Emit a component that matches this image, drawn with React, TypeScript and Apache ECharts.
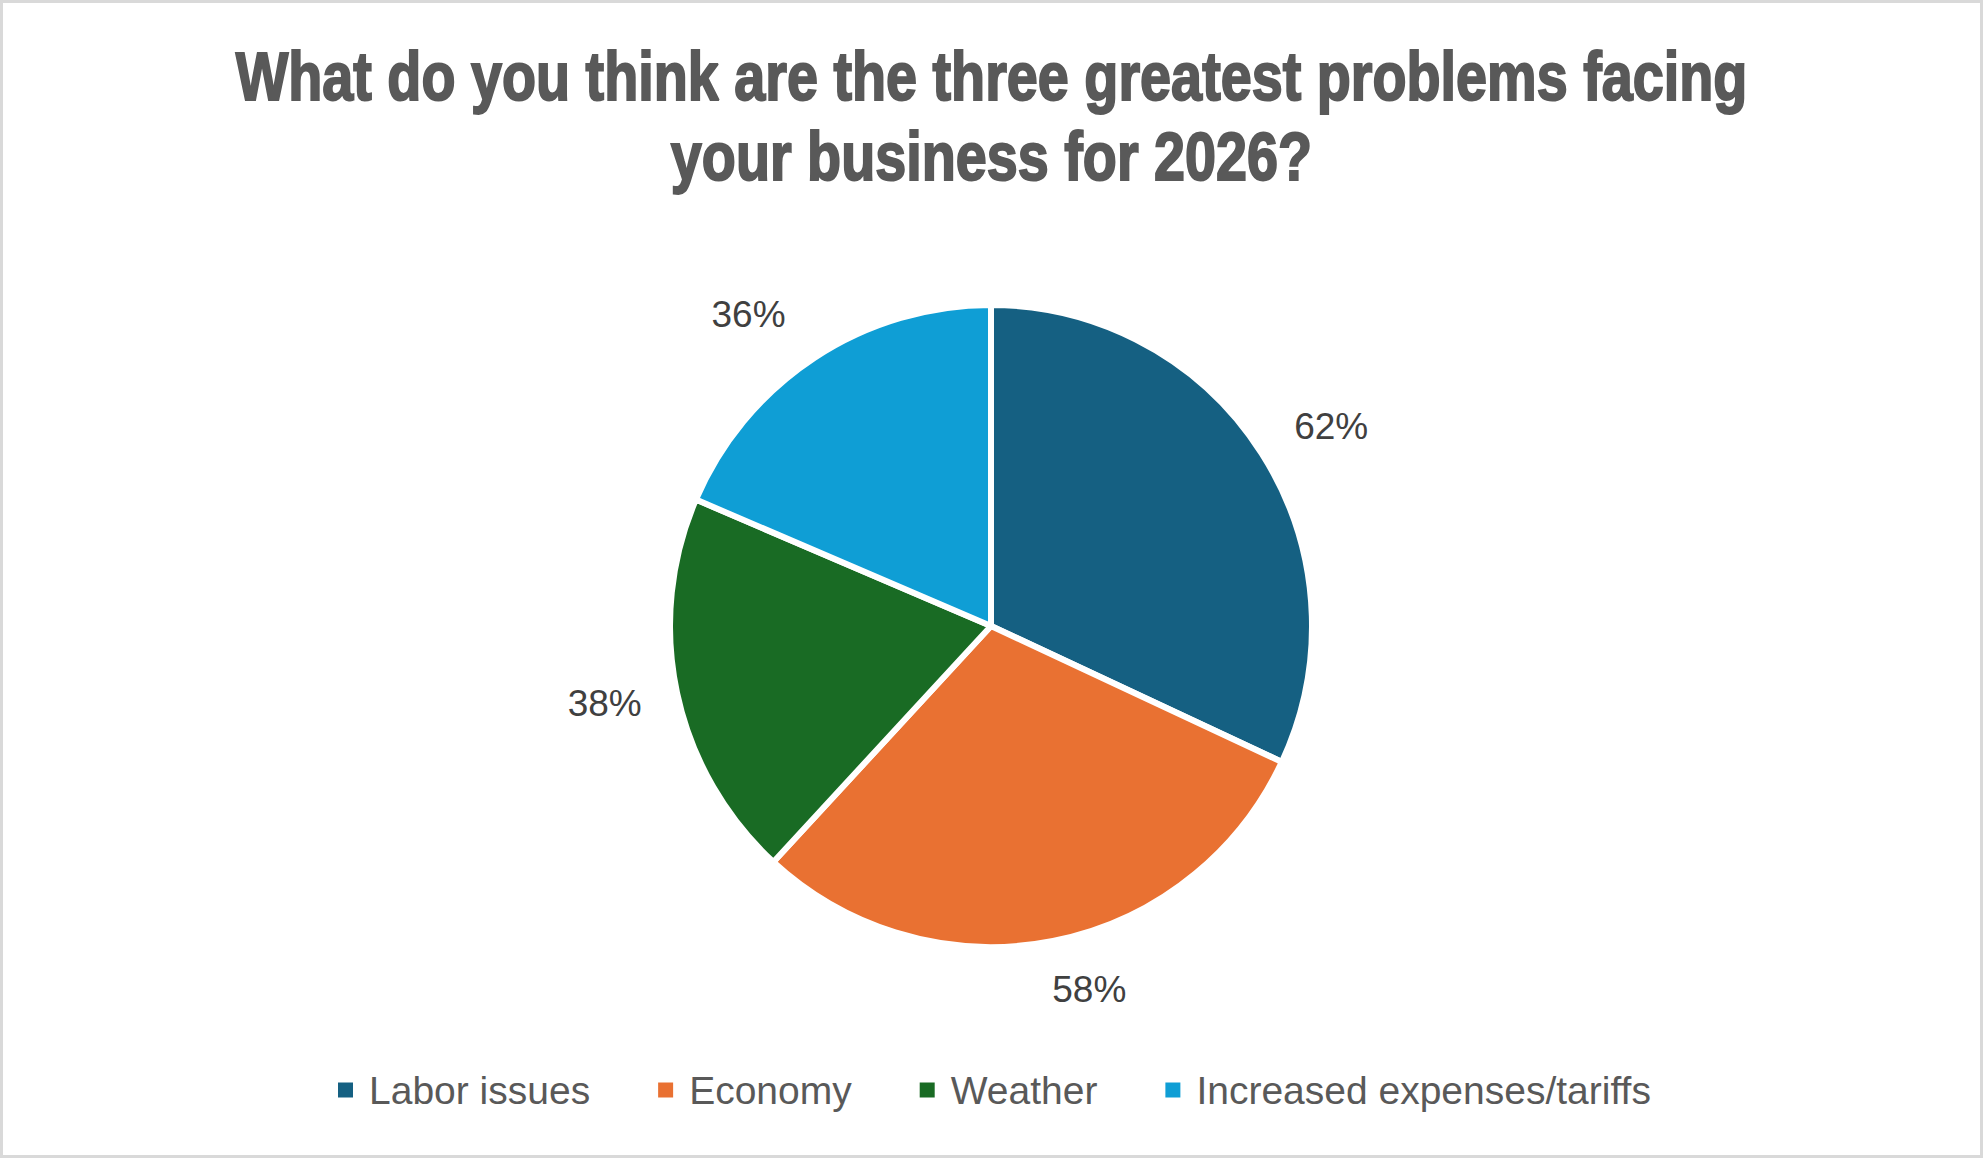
import React, { useEffect, useRef } from "react";
import * as echarts from "echarts";

const TITLE_LINES = [
  "What do you think are the three greatest problems facing",
  "your business for 2026?",
];
const categories = ["Labor issues", "Economy", "Weather", "Increased expenses/tariffs"];
const values = [62, 58, 38, 36];
const colors = ["#156082", "#E97132", "#196B24", "#0F9ED5"];
// small label nudges (px) to mimic the original label placement
const labelNudges = [
  [7, 13],
  [22, -24],
  [0, -5],
  [-25, 18],
];

export default function App() {
  const ref = useRef<HTMLDivElement>(null);

  useEffect(() => {
    if (!ref.current) return;
    const chart = echarts.init(ref.current, undefined, { renderer: "svg" });

    const mainData = categories.map((name, i) => ({
      name,
      value: values[i],
      itemStyle: { color: colors[i] },
    }));
    const labelData = categories.map((name, i) => ({
      name,
      value: values[i],
      label: { offset: labelNudges[i] },
    }));

    const titleTexts = TITLE_LINES.map((line, i) => ({
      type: "text",
      silent: true,
      x: 991.5,
      y: 76.5 + i * 80,
      scaleX: 0.82,
      style: {
        text: line,
        fill: "#595959",
        stroke: "#595959",
        lineWidth: 2,
        font: "bold 68px 'Liberation Sans', Arial, sans-serif",
        align: "center",
        verticalAlign: "middle",
      },
    }));

    chart.setOption({
      animation: false,
      backgroundColor: "#ffffff",
      legend: {
        data: categories,
        left: 336,
        top: 1070,
        padding: 0,
        itemWidth: 17,
        itemHeight: 17,
        itemGap: 66,
        icon: "rect",
        selectedMode: false,
        textStyle: {
          fontFamily: "'Liberation Sans', Arial, sans-serif",
          fontSize: 39,
          lineHeight: 40,
          color: "#595959",
          padding: [0, 0, 0, 10],
        },
      },
      graphic: [
        {
          type: "rect",
          silent: true,
          shape: { x: 1.5, y: 1.5, width: 1980, height: 1155 },
          style: { fill: "none", stroke: "#d9d9d9", lineWidth: 3 },
        },
        ...titleTexts,
      ],
      series: [
        {
          type: "pie",
          center: [991, 626],
          radius: [0, 321],
          startAngle: 90,
          clockwise: true,
          avoidLabelOverlap: false,
          silent: true,
          label: { show: false },
          labelLine: { show: false },
          itemStyle: { borderColor: "#ffffff", borderWidth: 6 },
          emphasis: { disabled: true },
          data: mainData,
        },
        {
          type: "pie",
          center: [991, 626],
          radius: [390, 394],
          startAngle: 90,
          clockwise: true,
          silent: true,
          legendHoverLink: false,
          itemStyle: { color: "rgba(0,0,0,0)", borderWidth: 0 },
          emphasis: { disabled: true },
          labelLine: { show: false },
          label: {
            show: true,
            position: "inside",
            rotate: 0,
            formatter: (p: any) => `${p.value}%`,
            fontFamily: "'Liberation Sans', Arial, sans-serif",
            fontSize: 37,
            color: "#404040",
          },
          data: labelData,
        },
      ],
    });

    return () => chart.dispose();
  }, []);

  return (
    <div
      ref={ref}
      style={{ position: "fixed", left: 0, top: 0, width: 1983, height: 1158, background: "#fff" }}
    />
  );
}
